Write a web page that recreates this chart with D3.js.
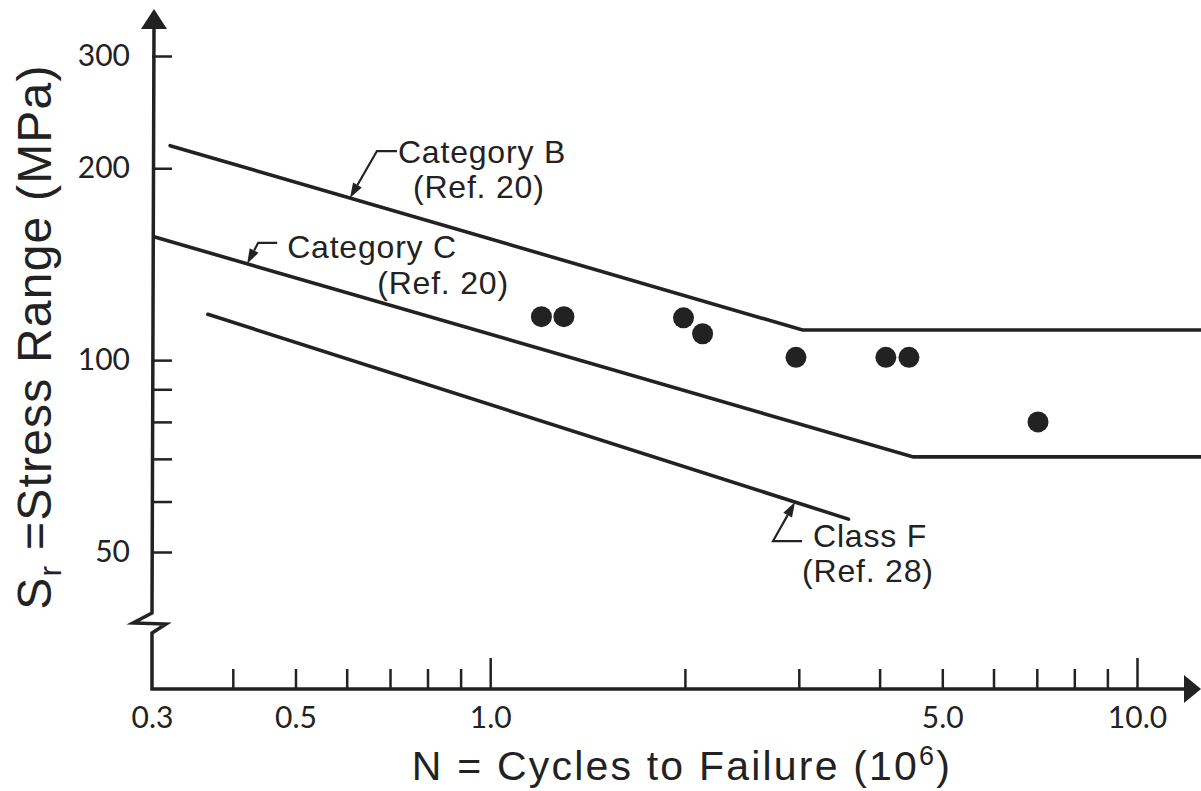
<!DOCTYPE html>
<html>
<head>
<meta charset="utf-8">
<script src="https://cdn.jsdelivr.net/npm/d3@7"></script>
<style>
    html, body { margin: 0; padding: 0; background: #fff; }
    svg { display: block; }
    text { fill: #222; font-family: "Liberation Sans", Arial, sans-serif; }
    .tick text { font-family: "Lato", "Liberation Sans", sans-serif; }
</style>
</head>
<body>
<svg width="1201" height="791"></svg>
<script>
// S-N data, N in millions of cycles, S in MPa
var categoryB = [[0.32, 217], [3.04, 111.5], [12.6, 111.5]];
var categoryC = [[0.303, 156], [4.51, 70.5], [12.6, 70.5]];
var classF = [[0.366, 118], [3.58, 56.3]];
var testN = [1.20, 1.30, 1.99, 2.13, 2.97, 4.09, 4.44, 7.03];
var testS = [117, 117, 116.5, 110, 101, 101, 101, 80];

var xTickValues = [0.3, 0.4, 0.5, 0.6, 0.7, 0.8, 0.9, 1, 2, 3, 4, 5, 6, 7, 8,
        9, 10];
var xMajorTicks = [1, 10];
var xTickLabels = {"0.3": "0.3", "0.5": "0.5", "1": "1.0", "5": "5.0",
        "10": "10.0"};
var yTickValues = [50, 60, 70, 80, 90, 100, 200, 300];
var yTickLabels = [50, 100, 200, 300];

var noteLabels = [
    ["Category B", "(Ref. 20)"],
    ["Category C", "(Ref. 20)"],
    ["Class F", "(Ref. 28)"]
];

(function () {
    "use strict";

    var ink = "#222";
    var axisX = 152; // px, y axis position
    var axisY = 689; // px, x axis position
    var svg = d3.select("svg");

    var xScale = d3.scaleLog().domain([0.3, 10]).range([152, 1137]);
    var yScale = d3.scaleLog().domain([50, 300]).range([552, 56]);

    // axis lines with break and arrows
    svg.append("path")
        .attr("d", "M154,26 L152,613 L133,623 L166,624 L152,633 L152," +
                axisY + " L1188," + axisY)
        .attr("fill", "none")
        .attr("stroke", ink)
        .attr("stroke-width", 3.5)
        .attr("stroke-linejoin", "miter");
    svg.append("path")
        .attr("d", "M154,9 L141,29 L167,29 Z")
        .attr("fill", ink);
    svg.append("path")
        .attr("d", "M1201," + axisY + " L1184," + (axisY - 14) + " L1184," +
                (axisY + 14) + " Z")
        .attr("fill", ink);

    // x axis ticks (inward)
    var xAxis = d3.axisBottom(xScale)
        .tickValues(xTickValues)
        .tickSize(-20)
        .tickPadding(18)
        .tickFormat(function (d) {
            return xTickLabels[String(d)] || "";
        });
    var xAxisGroup = svg.append("g")
        .attr("transform", "translate(0," + axisY + ")")
        .call(xAxis);
    xAxisGroup.select(".domain").remove();
    xAxisGroup.selectAll(".tick line")
        .attr("stroke", ink)
        .attr("stroke-width", 2.5)
        .attr("y2", function (d) {
            if (d === 0.3) {
                return 0;
            }
            return xMajorTicks.indexOf(d) >= 0 ? -31 : -20;
        });
    xAxisGroup.selectAll(".tick text")
        .attr("font-size", 30)
        .attr("fill", ink);

    // y axis ticks (inward)
    var yAxis = d3.axisLeft(yScale)
        .tickValues(yTickValues)
        .tickSize(-20)
        .tickPadding(22)
        .tickFormat(function (d) {
            return yTickLabels.indexOf(d) >= 0 ? String(d) : "";
        });
    var yAxisGroup = svg.append("g")
        .attr("transform", "translate(" + axisX + ",0)")
        .call(yAxis);
    yAxisGroup.select(".domain").remove();
    yAxisGroup.selectAll(".tick line")
        .attr("stroke", ink)
        .attr("stroke-width", 2.5);
    yAxisGroup.selectAll(".tick text")
        .attr("font-size", 30)
        .attr("fill", ink);

    // design curves
    var line = d3.line()
        .x(function (d) {
            return xScale(d[0]);
        })
        .y(function (d) {
            return yScale(d[1]);
        });
    var curves = [categoryB, categoryC, classF];
    svg.append("g")
        .selectAll("path")
        .data(curves)
        .join("path")
        .attr("d", line)
        .attr("fill", "none")
        .attr("stroke", ink)
        .attr("stroke-width", 3.6)
        .attr("stroke-linecap", "round");

    // test results
    svg.append("g")
        .selectAll("circle")
        .data(testN)
        .join("circle")
        .attr("cx", function (d) {
            return xScale(d);
        })
        .attr("cy", function (ignore, i) {
            return yScale(testS[i]);
        })
        .attr("r", 10.5)
        .attr("fill", ink);

    // point on a log-log polyline
    var sOnCurve = function (curve, n) {
        var i;
        var t;
        for (i = 0; i < curve.length - 1; i += 1) {
            if (n <= curve[i + 1][0]) {
                break;
            }
        }
        i = Math.min(i, curve.length - 2);
        t = Math.log(n / curve[i][0]) / Math.log(curve[i + 1][0] / curve[i][0]);
        return Math.exp(Math.log(curve[i][1]) +
                t * Math.log(curve[i + 1][1] / curve[i][1]));
    };

    // callouts: tip on curve, bend, stub end, text origins (offsets px)
    var notes = [
        {curve: categoryB, n: 0.607, bend: [27, -47], stub: [47, -47],
                text: [[48, -35], [63, 0]]},
        {curve: categoryC, n: 0.421, bend: [11, -21], stub: [30, -21],
                text: [[40, -6], [130, 30]]},
        {curve: classF, n: 2.96, bend: [-22, 39], stub: [7, 39],
                text: [[18, 45], [7, 80]]}
    ];

    notes.forEach(function (note, k) {
        var tx = xScale(note.n);
        var ty = yScale(sOnCurve(note.curve, note.n));
        var g = svg.append("g");
        var bx = tx + note.bend[0];
        var by = ty + note.bend[1];
        var ang = Math.atan2(ty - by, tx - bx);
        var len = 15;
        var half = 5;
        var baseX = tx - len * Math.cos(ang);
        var baseY = ty - len * Math.sin(ang);

        g.append("path")
            .attr("d", "M" + (tx + note.stub[0]) + "," + (ty + note.stub[1]) +
                    " L" + bx + "," + by + " L" + baseX + "," + baseY)
            .attr("fill", "none")
            .attr("stroke", ink)
            .attr("stroke-width", 2.2);
        g.append("path")
            .attr("d", "M" + tx + "," + ty +
                    " L" + (baseX + half * Math.sin(ang)) + "," +
                    (baseY - half * Math.cos(ang)) +
                    " L" + (baseX - half * Math.sin(ang)) + "," +
                    (baseY + half * Math.cos(ang)) + " Z")
            .attr("fill", ink);
        noteLabels[k].forEach(function (label, j) {
            g.append("text")
                .attr("x", tx + note.text[j][0])
                .attr("y", ty + note.text[j][1])
                .attr("font-size", 32)
                .attr("letter-spacing", 0.8)
                .text(label);
        });
    });

    // axis titles
    var xTitle = svg.append("text")
        .attr("x", 682)
        .attr("y", 780)
        .attr("text-anchor", "middle")
        .attr("font-size", 41)
        .attr("letter-spacing", 2.2);
    xTitle.append("tspan").text("N = Cycles to Failure (10");
    xTitle.append("tspan")
        .attr("font-size", 27)
        .attr("dy", -15)
        .text("6");
    xTitle.append("tspan")
        .attr("dy", 15)
        .text(")");

    var yTitle = svg.append("text")
        .attr("transform", "translate(51,337) rotate(-90)")
        .attr("text-anchor", "middle")
        .attr("font-size", 48)
        .attr("letter-spacing", 1.2);
    yTitle.append("tspan").text("S");
    yTitle.append("tspan")
        .attr("font-size", 32)
        .attr("dy", 10)
        .text("r");
    yTitle.append("tspan")
        .attr("dy", -10)
        .text(" =Stress Range (MPa)");
}());
</script>
</body>
</html>
